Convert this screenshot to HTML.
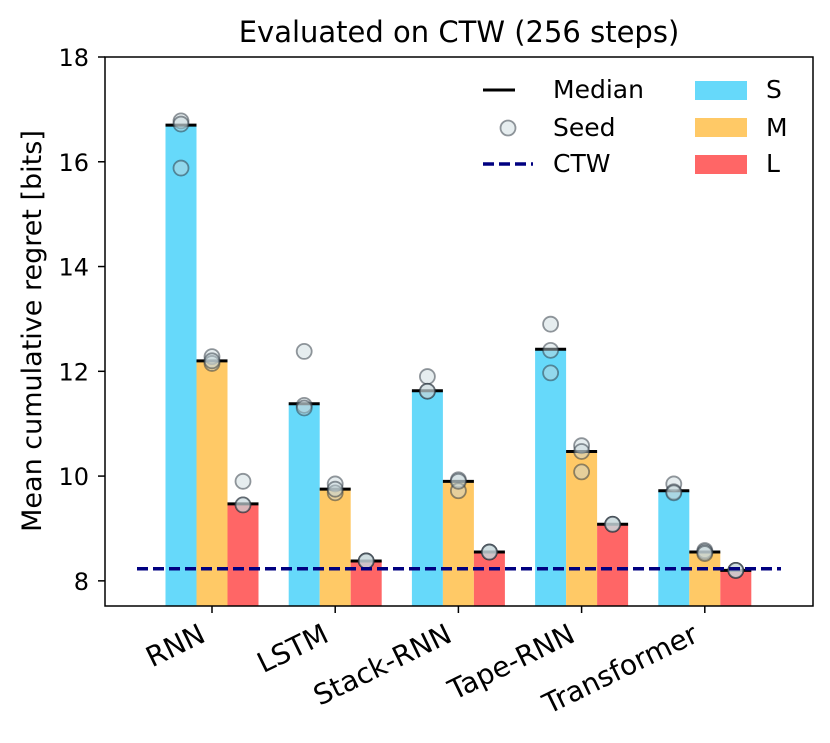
<!DOCTYPE html>
<html><head><meta charset="utf-8"><style>
body{margin:0;background:#fff}
svg text{font-family:"DejaVu Sans","Liberation Sans",sans-serif;fill:#000}
</style></head><body>
<svg id="chart" width="830" height="738" viewBox="0 0 830 738" xmlns="http://www.w3.org/2000/svg">
<rect width="830" height="738" fill="#fff"/>
<text x="459" y="42" font-size="29" text-anchor="middle">Evaluated on CTW (256 steps)</text>
<text transform="translate(41,331) rotate(-90)" font-size="27" text-anchor="middle">Mean cumulative regret [bits]</text>
<g id="bars"></g><g id="ticks"></g>
<rect x="105" y="57" width="708" height="549" fill="none" stroke="#000" stroke-width="1.5"/>
<g>
<line x1="483" y1="90" x2="515" y2="90" stroke="#000" stroke-width="3"/>
<text x="553" y="98" font-size="25">Median</text>
<circle cx="508" cy="128" r="7.5" fill="rgba(200,215,220,0.45)" stroke="rgba(40,50,60,0.5)" stroke-width="1.8"/>
<text x="553" y="136" font-size="25">Seed</text>
<line x1="483" y1="164" x2="533" y2="164" stroke="#000080" stroke-width="3.5" stroke-dasharray="11,5"/>
<text x="553" y="172" font-size="25">CTW</text>
<rect x="695" y="81" width="52" height="19" fill="#66d9fa"/>
<text x="766" y="98" font-size="25">S</text>
<rect x="695" y="118" width="52" height="19" fill="#ffc966"/>
<text x="766" y="136" font-size="25">M</text>
<rect x="695" y="155" width="52" height="19" fill="#ff6666"/>
<text x="766" y="172" font-size="25">L</text>
</g>
</svg>
<script>
const categories=["RNN","LSTM","Stack-RNN","Tape-RNN","Transformer"];
const sizes=["S","M","L"];
const medianS=[16.7,11.38,11.63,12.42,9.72];
const medianM=[12.2,9.75,9.9,10.47,8.55];
const medianL=[9.47,8.38,8.55,9.08,8.2];
const seedsS=[[16.78,16.72,15.88],[12.38,11.35,11.3],[11.9,11.62,11.62],[12.9,12.4,11.97],[9.85,9.7,9.68]];
const seedsM=[[12.28,12.15,12.2],[9.85,9.68,9.75],[9.93,9.72,9.9],[10.58,10.47,10.08],[8.58,8.55,8.52]];
const seedsL=[[9.9,9.45,9.45],[8.38,8.38,8.38],[8.55,8.55,8.55],[9.08,9.08,9.08],[8.2,8.2,8.2]];
const ctwValue=8.23;
const yTicks=[8,10,12,14,16,18];
const NS="http://www.w3.org/2000/svg";
const yMin=7.52,yMax=18;
function y(v){return 606-(v-yMin)/(yMax-yMin)*549;}
function xc(i){return 212+i*123.2;}
const bw=31;
const colors=["#66d9fa","#ffc966","#ff6666"];
const meds=[medianS,medianM,medianL], seeds=[seedsS,seedsM,seedsL];
const g=document.getElementById('bars'), t=document.getElementById('ticks');
function mk(tag,a,p){const e=document.createElementNS(NS,tag);for(const k in a)e.setAttribute(k,a[k]);p.appendChild(e);return e;}
categories.forEach((c,i)=>{
  sizes.forEach((s,j)=>{
    const x=xc(i)+(j-1)*bw-bw/2, v=meds[j][i];
    const r=mk('rect',{x:x,y:y(v),width:bw,height:606-y(v),fill:colors[j]},g);
    
    
    const l=mk('line',{x1:x,x2:x+bw,y1:y(v),y2:y(v),stroke:'#000','stroke-width':3},g);
    
    
    seeds[j][i].forEach(sv=>{
      const ci=mk('circle',{cx:x+bw/2,cy:y(sv),r:7.5,fill:'rgba(200,215,220,0.45)',stroke:'rgba(40,50,60,0.5)','stroke-width':1.8},g);
      
      
    });
  });
  const tk=mk('line',{x1:xc(i),x2:xc(i),y1:606,y2:613,stroke:'#000','stroke-width':1.5},t);
  
  
  const tx=mk('text',{transform:`translate(${xc(i)-14},622) rotate(-26)`,'font-size':28,'text-anchor':'end','dominant-baseline':'hanging'},t);
  tx.textContent=c;
  
  
});
const ctw=mk('line',{x1:137,x2:781,y1:y(ctwValue),y2:y(ctwValue),stroke:'#000080','stroke-width':3.5,'stroke-dasharray':'11,5'},g);


yTicks.forEach(v=>{
  const l=mk('line',{x1:98,x2:105,y1:y(v),y2:y(v),stroke:'#000','stroke-width':1.5},t);
  
  
  const tx=mk('text',{x:89,y:y(v)+9,'font-size':24,'text-anchor':'end'},t);
  tx.textContent=v;
  
  
});
</script>
</body></html>
